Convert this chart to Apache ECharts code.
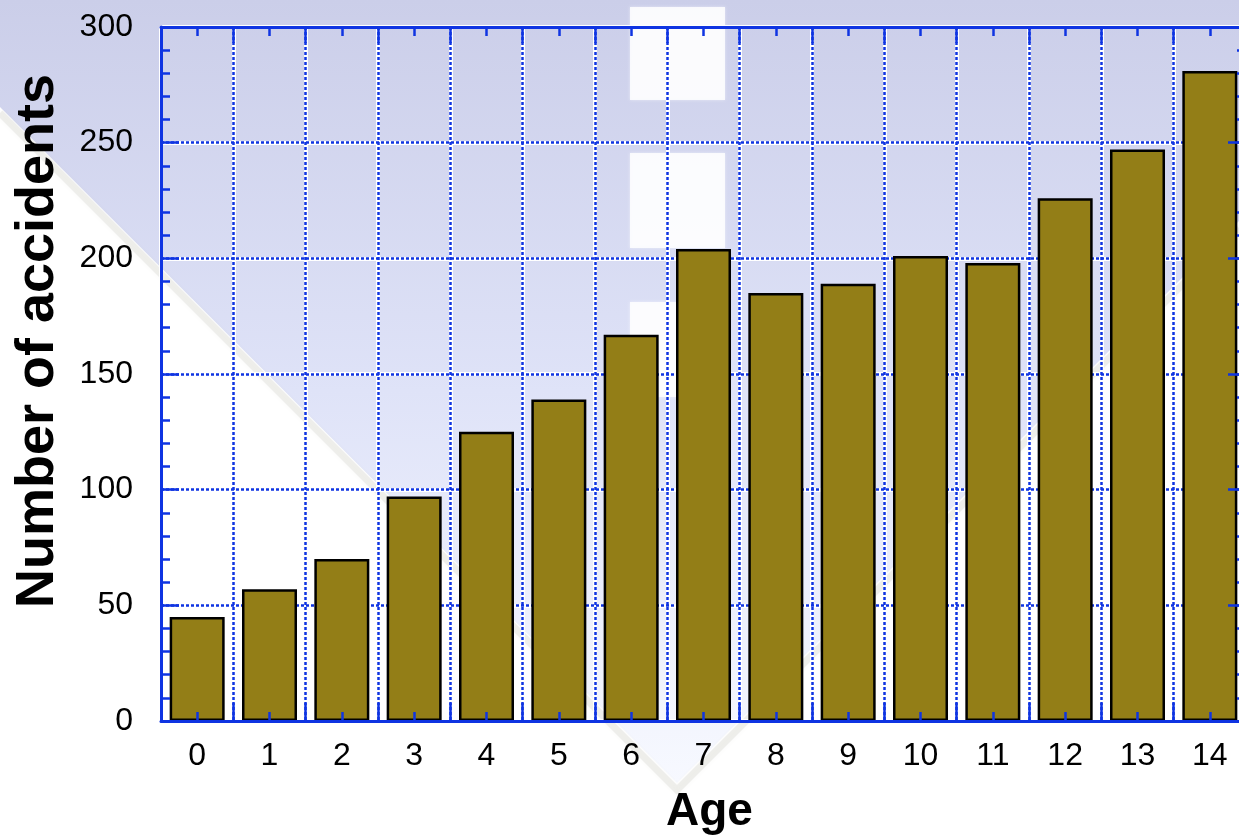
<!DOCTYPE html>
<html><head><meta charset="utf-8">
<script src="https://cdn.jsdelivr.net/npm/echarts@6/dist/echarts.min.js"></script>
<style>html,body{margin:0;padding:0;background:#fff}#c{width:1239px;height:836px}</style>
</head><body><div id="c"></div>
<script>
const categories = ['0','1','2','3','4','5','6','7','8','9','10','11','12','13','14'];
const accidents = [45, 57, 70, 97, 125, 139, 167, 204, 185, 189, 201, 198, 226, 247, 281];
const yMin = 0, yMax = 300, yInterval = 50;
const xTitle = 'Age';
const yTitle = 'Number of accidents';

const BLUE = '#0f34e2';
const FONT = 'Liberation Sans, Arial, Helvetica, sans-serif';
const gridRect = { left: 161, right: -7, top: 27, bottom: 115, containLabel: false, outerBoundsMode: 'none' };

const chart = echarts.init(document.getElementById('c'), null, { renderer: 'canvas' });

const hidden = { axisLine: { show: false, onZero: false }, axisTick: { show: false }, axisLabel: { show: false } };

const option = {
  backgroundColor: '#ffffff',
  animation: false,
  graphic: [
    { type: 'polygon', z: -10, silent: true,
      shape: { points: [[0, 0], [1239, 0], [1239, 221], [677, 783], [0, 107]] },
      style: { fill: new echarts.graphic.LinearGradient(0, 0, 0, 1, [
        { offset: 0, color: '#cbcee9' }, { offset: 0.5, color: '#dfe3f8' }, { offset: 1, color: '#f7f9ff' }
      ]) } },
    { type: 'polyline', z: -9, silent: true,
      shape: { points: [[0, 113], [677, 790], [1239, 228]] },
      style: { stroke: 'rgba(215,215,205,0.35)', lineWidth: 7, fill: null, shadowBlur: 4, shadowColor: 'rgba(215,215,205,0.4)' } },
    { type: 'rect', z: -8, silent: true, shape: { x: 630, y: 7, width: 95, height: 93 },
      style: { fill: 'rgba(255,255,255,0.82)', shadowBlur: 3, shadowColor: 'rgba(255,255,255,0.6)' } },
    { type: 'rect', z: -8, silent: true, shape: { x: 630, y: 153, width: 95, height: 95 },
      style: { fill: 'rgba(255,255,255,0.82)', shadowBlur: 3, shadowColor: 'rgba(255,255,255,0.6)' } },
    { type: 'rect', z: -8, silent: true, shape: { x: 630, y: 302, width: 95, height: 95 },
      style: { fill: 'rgba(255,255,255,0.82)', shadowBlur: 3, shadowColor: 'rgba(255,255,255,0.6)' } },
    { type: 'text', z: 10, x: 38, y: 341, rotation: Math.PI / 2,
      style: { text: yTitle, font: 'bold 54px ' + FONT, fill: '#000', textAlign: 'center', textVerticalAlign: 'middle' } }
  ],
  grid: [ Object.assign({}, gridRect), Object.assign({}, gridRect), Object.assign({}, gridRect) ],
  xAxis: [
    Object.assign({ gridIndex: 0, type: 'category', data: categories, position: 'bottom', z: 1,
      splitLine: { show: true, interval: 0, lineStyle: { color: BLUE, width: 2.5, type: [3, 2] } } }, hidden),
    Object.assign({ gridIndex: 0, type: 'category', data: categories, position: 'top', z: 0,
      splitLine: { show: true, interval: 0, lineStyle: { color: '#ffffff', width: 4 } } }, hidden),
    { gridIndex: 1, type: 'category', data: categories, position: 'bottom', z: 5,
      axisLine: { show: true, onZero: false, lineStyle: { color: BLUE, width: 3 } },
      axisTick: { show: true, inside: true, length: 18, interval: 0, lineStyle: { color: BLUE, width: 2.5 } },
      axisLabel: { show: true, interval: 0, margin: 19, color: '#000', fontSize: 32, fontFamily: FONT },
      splitLine: { show: false },
      name: xTitle, nameLocation: 'middle', nameGap: 68,
      nameTextStyle: { color: '#000', fontSize: 46, fontWeight: 'bold', fontFamily: FONT, padding: [0, 0, 0, 12] } },
    { gridIndex: 1, type: 'category', data: categories, position: 'top', z: 5,
      axisLine: { show: true, onZero: false, lineStyle: { color: BLUE, width: 3 } },
      axisTick: { show: true, inside: true, length: 16, interval: 0, lineStyle: { color: BLUE, width: 2.5 } },
      axisLabel: { show: false }, splitLine: { show: false } },
    { gridIndex: 2, type: 'category', data: categories, position: 'bottom', z: 5,
      axisLine: { show: false, onZero: false },
      axisTick: { show: true, inside: true, alignWithLabel: true, length: 9, interval: 0, lineStyle: { color: BLUE, width: 2.5 } },
      axisLabel: { show: false }, splitLine: { show: false } },
    { gridIndex: 2, type: 'category', data: categories, position: 'top', z: 5,
      axisLine: { show: false, onZero: false },
      axisTick: { show: true, inside: true, alignWithLabel: true, length: 9, interval: 0, lineStyle: { color: BLUE, width: 2.5 } },
      axisLabel: { show: false }, splitLine: { show: false } }
  ],
  yAxis: [
    Object.assign({ gridIndex: 0, type: 'value', min: yMin, max: yMax, interval: yInterval, position: 'left', z: 1,
      splitLine: { show: true, lineStyle: { color: BLUE, width: 2.5, type: [3, 2] } } }, hidden),
    Object.assign({ gridIndex: 0, type: 'value', min: yMin, max: yMax, interval: yInterval, position: 'right', z: 0,
      splitLine: { show: true, lineStyle: { color: '#ffffff', width: 4 } } }, hidden),
    { gridIndex: 1, type: 'value', min: yMin, max: yMax, interval: yInterval, position: 'left', z: 5,
      axisLine: { show: true, onZero: false, lineStyle: { color: BLUE, width: 3 } },
      axisTick: { show: true, inside: true, length: 18, lineStyle: { color: BLUE, width: 2.5 } },
      minorTick: { show: true, splitNumber: 5, length: 9, lineStyle: { color: BLUE, width: 2.5 } },
      axisLabel: { show: true, margin: 28, color: '#000', fontSize: 32, fontFamily: FONT },
      splitLine: { show: false } },
    { gridIndex: 1, type: 'value', min: yMin, max: yMax, interval: yInterval, position: 'right', z: 5,
      axisLine: { show: true, onZero: false, lineStyle: { color: BLUE, width: 3 } },
      axisTick: { show: true, inside: true, length: 18, lineStyle: { color: BLUE, width: 2.5 } },
      minorTick: { show: true, splitNumber: 5, length: 9, lineStyle: { color: BLUE, width: 2.5 } },
      axisLabel: { show: false }, splitLine: { show: false } },
    { gridIndex: 2, type: 'value', min: yMin, max: yMax, interval: yInterval, show: false }
  ],
  series: [{
    type: 'bar', xAxisIndex: 0, yAxisIndex: 0, data: accidents, z: 2,
    barWidth: 55,
    itemStyle: { color: '#937e17', borderColor: '#000000', borderWidth: 2.5 }
  }]
};
chart.setOption(option);
</script></body></html>
